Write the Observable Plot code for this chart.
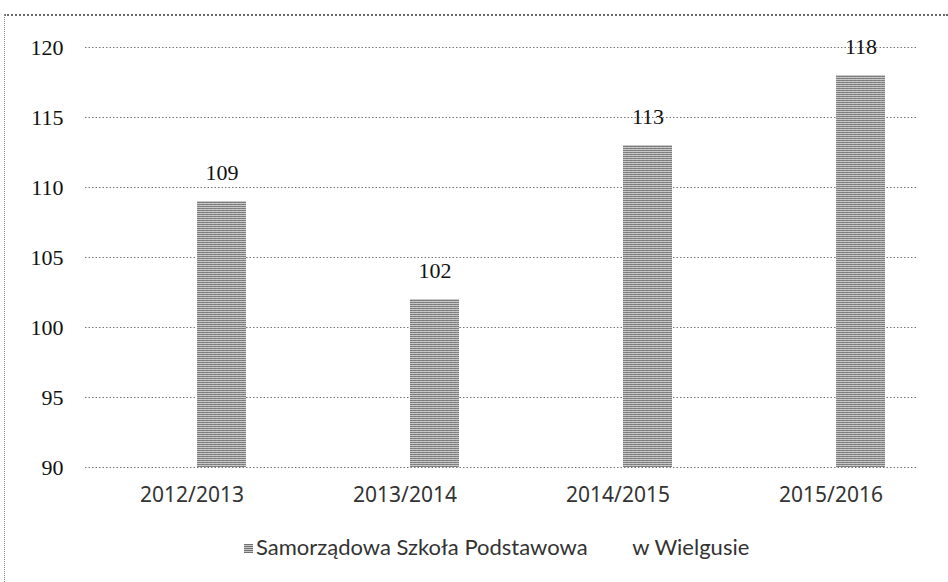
<!DOCTYPE html>
<html>
<head>
<meta charset="utf-8">
<script src="https://cdn.jsdelivr.net/npm/d3@7"></script>
<script src="https://cdn.jsdelivr.net/npm/@observablehq/plot@0.6"></script>
<style>
  html, body { margin: 0; padding: 0; background: #fff; }
  #wrap { position: relative; width: 948px; height: 582px; overflow: hidden; background: #fff; }
  #frameTop { position: absolute; left: 4px; top: 14px; width: 944px; border-top: 2px dotted #6a6a6a; }
  #frameLeft { position: absolute; left: 4px; top: 14px; height: 568px; border-left: 1px dotted #8a8a8a; }
  #chart { position: absolute; left: 0; top: 0; }
  #legend { position: absolute; left: 244px; top: 533px; white-space: nowrap;
            font-family: Lato, "Open Sans", sans-serif; font-size: 22px; color: #333; }
  #legend .sw { display: inline-block; width: 9px; height: 9px;
                margin-right: 3px; vertical-align: 2px; }
</style>
</head>
<body>
<div id="wrap">
  <div id="frameTop"></div>
  <div id="frameLeft"></div>
  <div id="chart"></div>
  <div id="legend"></div>
</div>
<script>
const years = ["2012/2013", "2013/2014", "2014/2015", "2015/2016"];
const counts = [109, 102, 113, 118];
const yTicks = [90, 95, 100, 105, 110, 115, 120];
const seriesName = "Samorządowa Szkoła Podstawowa        w Wielgusie";

const data = years.map((y, i) => ({year: y, value: counts[i]}));
const serif = "'Liberation Serif', 'DejaVu Serif', serif";

const plot = Plot.plot({
  width: 948,
  height: 520,
  marginLeft: 85,
  marginRight: 30,
  marginTop: 47,
  marginBottom: 53,
  x: {domain: years, range: [197, 885], paddingInner: 0.77, paddingOuter: 0},
  y: {domain: [90, 120], axis: null},
  style: {background: "transparent"},
  marks: [
    Plot.ruleY(yTicks, {stroke: "#777", strokeWidth: 1, strokeDasharray: "1.5,2"}),
    Plot.barY(data, {x: "year", y1: 90, y2: "value", fill: "url(#hatch)"}),
    Plot.text(data, {x: "year", y: "value", text: d => String(d.value), dy: -29,
      fontFamily: serif, fontSize: 22, fill: "#111"}),
    Plot.text(yTicks, {y: d => d, text: d => String(d), frameAnchor: "left", textAnchor: "end",
      dx: -22, fontFamily: serif, fontSize: 22, fill: "#111"}),
    Plot.axisX({tickSize: 0, tickPadding: 20, dx: -30, label: null, fontSize: 21, color: "#333"})
  ]
});

const svg = d3.select(plot);

// hatched gray pattern for bars
const defs = svg.insert("defs", ":first-child");
const pat = defs.append("pattern").attr("id", "hatch").attr("patternUnits", "userSpaceOnUse")
  .attr("width", 4).attr("height", 4);
pat.append("rect").attr("width", 4).attr("height", 4).attr("fill", "#c8c8c8");
pat.append("path").attr("d", "M0,0.5H4M0,2.5H4").attr("stroke", "#707070").attr("stroke-width", 0.9);
pat.append("path").attr("d", "M1,0V4").attr("stroke", "#999").attr("stroke-width", 0.6).attr("stroke-dasharray", "1,1");

document.getElementById("chart").appendChild(plot);

const lg = document.getElementById("legend");
const sw = document.createElement("span");
sw.className = "sw";
sw.style.background = "url(\"data:image/svg+xml;utf8,<svg xmlns='http://www.w3.org/2000/svg' width='4' height='4'><rect width='4' height='4' fill='%23c8c8c8'/><path d='M0,0.5H4M0,2.5H4' stroke='%23707070'/></svg>\")";
lg.appendChild(sw);
const tx = document.createElement("span");
tx.style.whiteSpace = "pre";
tx.textContent = seriesName;
lg.appendChild(tx);
</script>
</body>
</html>
